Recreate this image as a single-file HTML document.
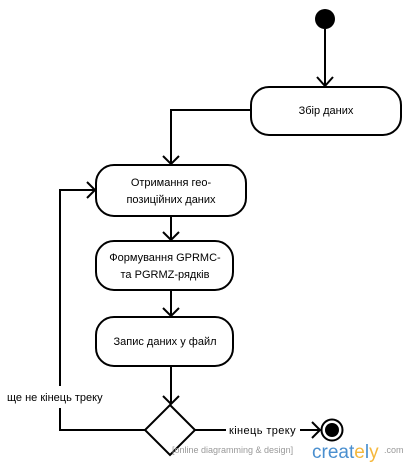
<!DOCTYPE html>
<html><head><meta charset="utf-8"><style>
body{margin:0;background:#fff;width:410px;height:465px;overflow:hidden}
text{font-family:"Liberation Sans",sans-serif;font-size:11px;fill:#000}
</style></head><body>
<svg width="410" height="465" viewBox="0 0 410 465" xmlns="http://www.w3.org/2000/svg">
<g fill="none" stroke="#000" stroke-width="2">
<circle cx="325" cy="19" r="10" fill="#000" stroke="none"/>
<line x1="325" y1="29" x2="325" y2="86"/>
<polyline points="317,77 325,86 333,77"/>
<rect x="251" y="87" width="150" height="48" rx="18"/>
<polyline points="251,110 171,110 171,164"/>
<polyline points="163,156 171,164 179,156"/>
<rect x="96" y="165" width="150" height="51" rx="18"/>
<line x1="171" y1="216" x2="171" y2="240"/>
<polyline points="163,232 171,240 179,232"/>
<rect x="96" y="241" width="137" height="49" rx="18"/>
<line x1="171" y1="290" x2="171" y2="316"/>
<polyline points="163,308 171,316 179,308"/>
<rect x="96" y="317" width="137" height="49" rx="18"/>
<line x1="171" y1="366" x2="171" y2="404"/>
<polyline points="163,396 171,404 179,396"/>
<polygon points="170,405 195,430 170,455 145,430"/>
<polyline points="145,430 60,430 60,408"/>
<polyline points="60,386 60,190 95,190"/>
<polyline points="87,182 95,190 87,198"/>
<line x1="195" y1="430" x2="226" y2="430"/>
<line x1="300" y1="430" x2="320" y2="430"/>
<polyline points="312,422 320,430 312,438"/>
<circle cx="332" cy="430" r="10.5"/>
<circle cx="332" cy="430" r="7" fill="#000" stroke="none"/>
</g>
<text x="326" y="114" text-anchor="middle">Збір даних</text>
<text x="171" y="186" text-anchor="middle">Отримання гео-</text>
<text x="171" y="203" text-anchor="middle">позиційних даних</text>
<text x="165" y="261" text-anchor="middle">Формування GPRMC-</text>
<text x="165" y="278" text-anchor="middle">та PGRMZ-рядків</text>
<text x="165" y="345" text-anchor="middle">Запис даних у файл</text>
<text x="7" y="401">ще не кінець треку</text>
<text x="229" y="434" style="letter-spacing:0.4px">кінець треку</text>
<text x="172" y="453" style="font-size:9px;fill:#999">[online diagramming &amp; design]</text>
<text x="312" y="458" style="font-size:19px;fill:#4a8fcf">creat<tspan style="fill:#f5b83d">e</tspan>l<tspan style="fill:#f5b83d">y</tspan></text>
<text x="384" y="453" style="font-size:9px;fill:#999">.com</text>
</svg>
</body></html>
